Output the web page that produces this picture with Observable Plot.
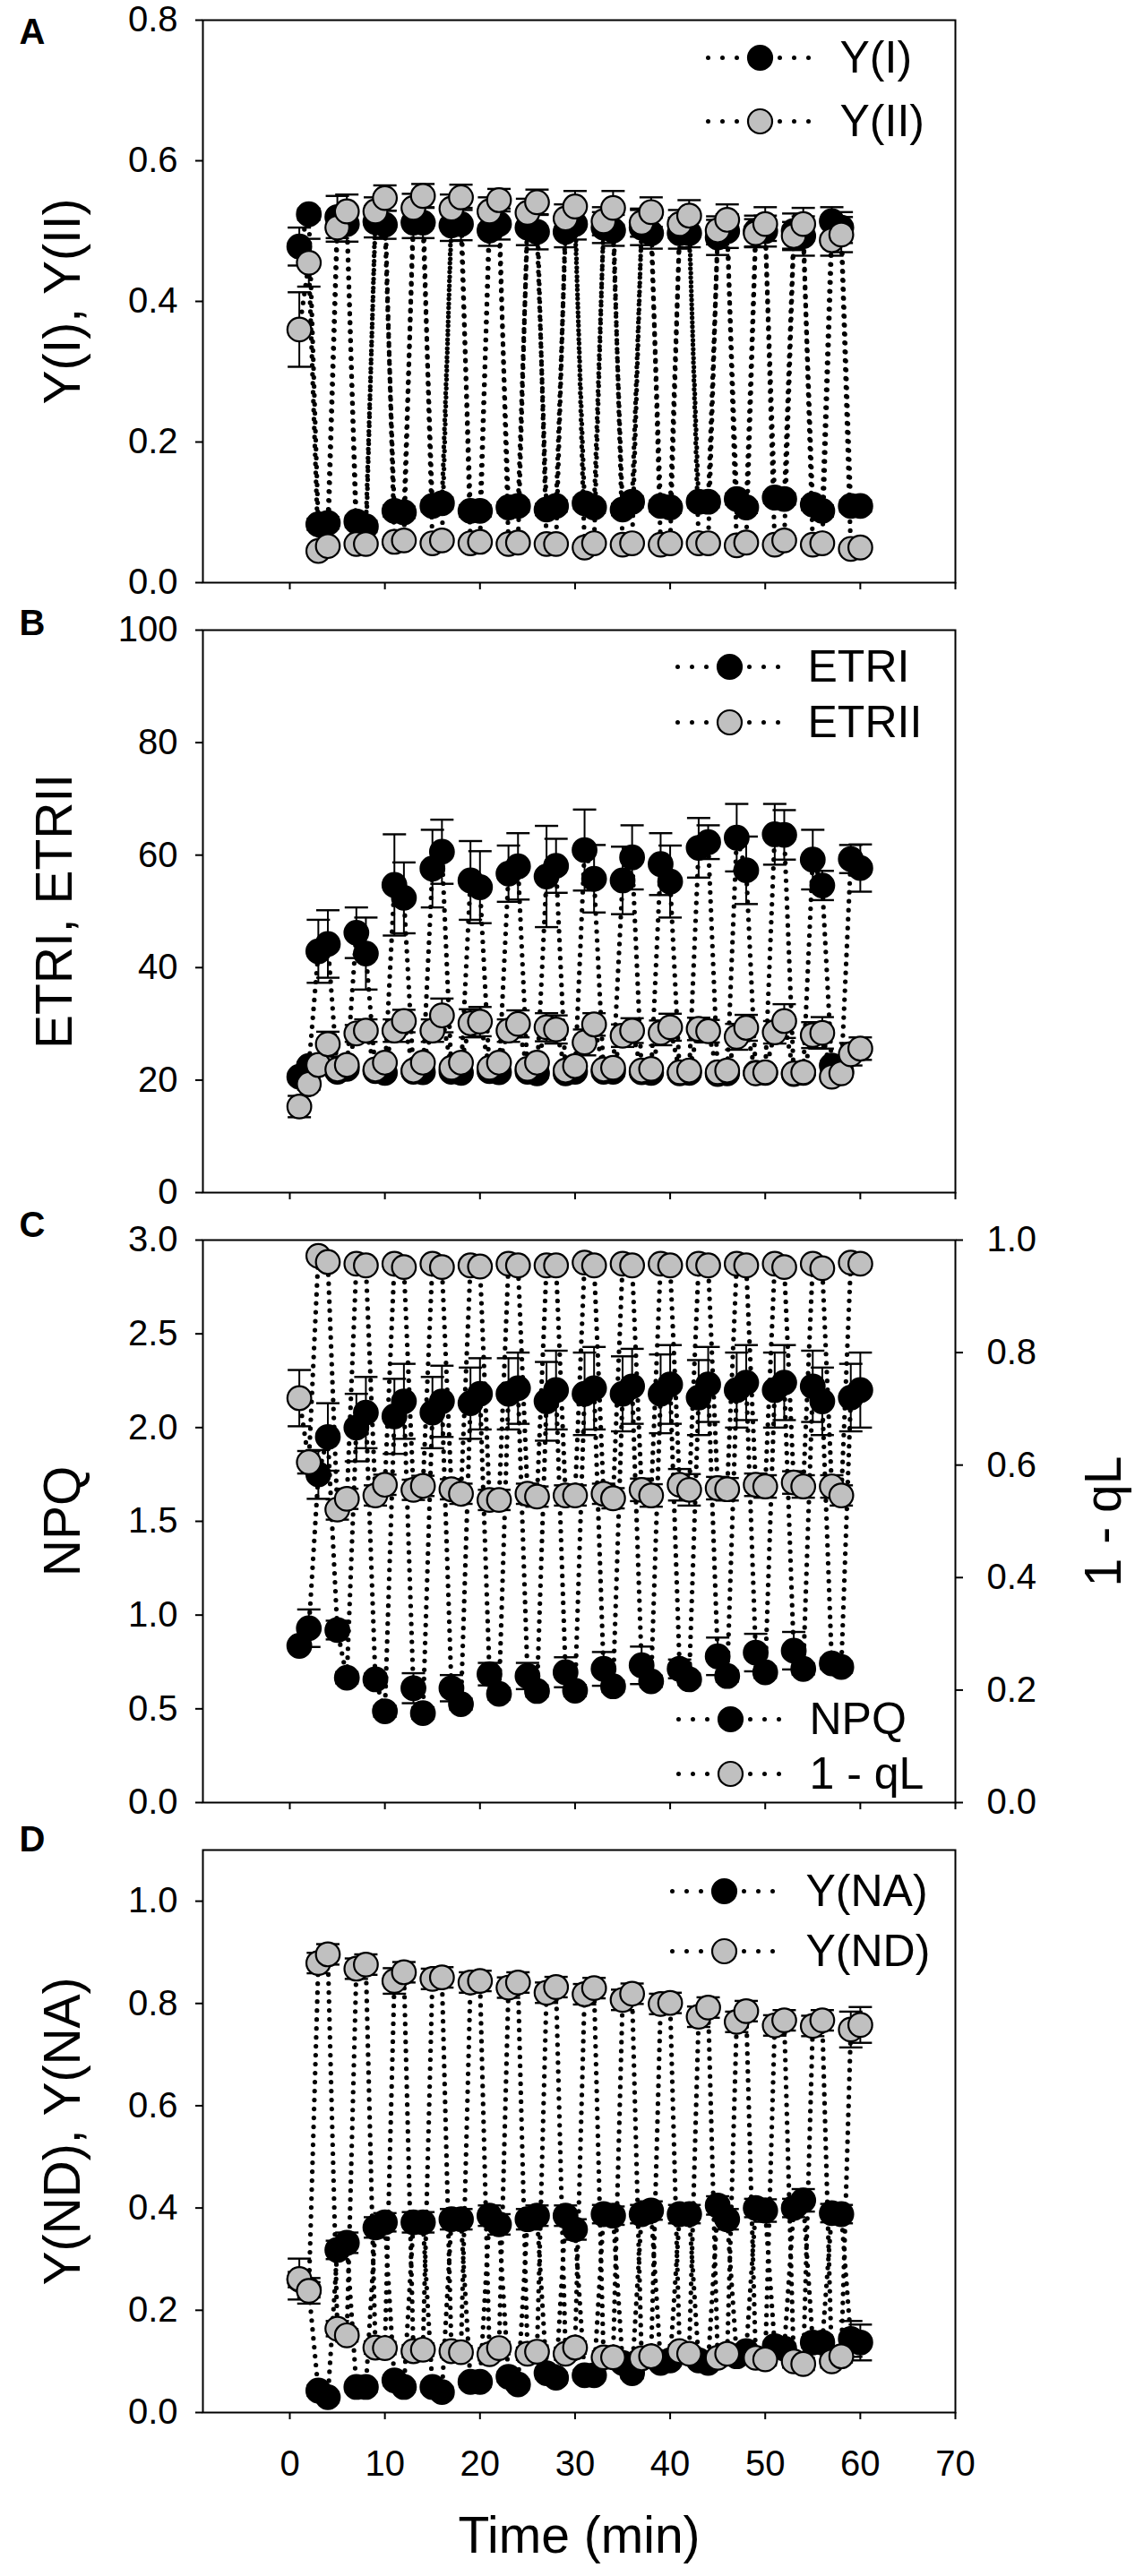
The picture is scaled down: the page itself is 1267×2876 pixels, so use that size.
<!DOCTYPE html>
<html>
<head>
<meta charset="utf-8">
<script src="https://cdn.jsdelivr.net/npm/d3@7"></script>
<script src="https://cdn.jsdelivr.net/npm/@observablehq/plot@0.6"></script>
<style>
  html, body { margin: 0; padding: 0; background: #fff; }
  #chart svg { display: block; }
</style>
</head>
<body>
<div id="chart"></div>
<script>
// ---------- data ----------
const time = [1,2,3,4,5,6,7,8,9,10,11,12,13,14,15,16,17,18,19,20,21,22,23,24,25,26,27,28,29,30,
              31,32,33,34,35,36,37,38,39,40,41,42,43,44,45,46,47,48,49,50,51,52,53,54,55,56,57,58,59,60];
const xTicks = [0,10,20,30,40,50,60,70];

// Panel A
const yI = [0.478,0.524,0.083,0.085,0.520,0.510,0.087,0.080,0.513,0.509,0.102,0.100,0.512,0.512,0.109,0.113,0.508,0.510,0.102,0.102,
            0.501,0.510,0.107,0.109,0.505,0.499,0.104,0.109,0.499,0.510,0.113,0.107,0.505,0.501,0.104,0.115,0.505,0.497,0.109,0.107,
            0.497,0.497,0.115,0.115,0.491,0.500,0.119,0.107,0.500,0.500,0.121,0.119,0.500,0.493,0.111,0.102,0.514,0.505,0.109,0.109];
const yIErr = [0.027,0.008,0.008,0.008,0.030,0.025,0.008,0.008,0.022,0.020,0.008,0.008,0.022,0.022,0.008,0.008,0.022,0.023,0.008,0.008,
               0.022,0.022,0.008,0.008,0.025,0.025,0.008,0.008,0.022,0.022,0.008,0.008,0.022,0.022,0.008,0.008,0.025,0.022,0.008,0.008,
               0.022,0.020,0.008,0.008,0.025,0.024,0.008,0.008,0.022,0.022,0.008,0.008,0.025,0.028,0.008,0.008,0.020,0.022,0.008,0.008];
const yII = [0.360,0.455,0.045,0.052,0.505,0.528,0.055,0.055,0.528,0.547,0.058,0.060,0.533,0.550,0.056,0.060,0.532,0.548,0.056,0.058,
             0.528,0.544,0.055,0.057,0.526,0.541,0.055,0.055,0.518,0.535,0.050,0.056,0.514,0.533,0.054,0.056,0.512,0.527,0.054,0.056,
             0.510,0.522,0.056,0.056,0.501,0.516,0.053,0.057,0.497,0.510,0.054,0.060,0.493,0.510,0.054,0.056,0.487,0.495,0.048,0.050];
const yIIErr = [0.053,0.034,0.005,0.005,0.020,0.024,0.005,0.005,0.020,0.018,0.005,0.005,0.020,0.017,0.005,0.005,0.020,0.018,0.005,0.005,
                0.020,0.016,0.005,0.005,0.020,0.018,0.005,0.005,0.020,0.022,0.005,0.005,0.020,0.024,0.005,0.005,0.020,0.021,0.005,0.005,
                0.020,0.022,0.005,0.005,0.020,0.022,0.005,0.005,0.020,0.024,0.005,0.005,0.020,0.023,0.005,0.005,0.022,0.025,0.005,0.005];

// Panel B
const etrI = [20.6,22.5,42.9,44.2,21.5,22.0,46.2,42.5,21.6,21.3,54.7,52.4,21.5,21.4,57.6,60.6,21.5,21.3,55.5,54.3,
              21.6,21.4,56.7,58.0,21.5,21.2,56.2,58.1,21.2,21.5,60.9,55.8,21.5,21.5,55.5,59.6,21.4,21.3,58.4,55.3,
              21.2,21.3,61.3,62.3,21.1,21.2,63.1,57.3,21.3,21.3,63.7,63.6,21.1,21.3,59.2,54.6,22.6,21.5,59.3,57.7];
const etrIErr = [0.8,0.8,5.6,6.0,0.8,0.8,4.5,6.4,0.8,0.8,9.0,6.3,0.8,0.8,6.9,5.7,0.8,0.8,7.0,6.4,
                 0.8,0.8,5.0,5.9,0.8,0.8,9.0,4.8,0.8,0.8,7.2,6.0,0.8,0.8,6.0,5.7,0.8,0.8,5.5,6.4,
                 0.8,0.8,5.3,3.0,0.8,0.8,6.0,6.0,0.8,0.8,5.4,4.4,0.8,0.8,5.3,2.6,0.8,0.8,2.5,4.2];
const etrII = [15.3,19.3,22.7,26.4,21.9,22.7,28.3,28.8,21.9,23.1,28.8,30.5,21.7,23.1,28.8,31.5,22.2,23.1,30.1,30.4,
               22.2,23.1,28.8,30.0,22.0,23.1,29.4,29.0,21.7,22.5,26.7,29.9,21.9,22.2,27.9,28.8,21.7,22.0,28.4,29.4,
               21.4,21.7,29.1,28.7,21.4,21.7,27.7,29.3,21.2,21.4,28.5,30.5,21.2,21.4,28.0,28.4,20.6,21.2,24.6,25.6];
const etrIIErr = [1.9,1.0,1.0,2.2,0.6,0.6,1.5,2.0,0.6,0.6,2.0,2.0,0.6,0.6,2.0,3.0,0.6,0.6,2.5,2.6,
                  0.6,0.6,2.0,2.4,0.6,0.6,2.5,2.5,0.6,0.6,2.3,2.0,0.6,0.6,2.0,2.2,0.6,0.6,2.2,2.4,
                  0.6,0.6,2.0,2.0,0.6,0.6,2.3,2.3,0.6,0.6,2.0,3.0,0.6,0.6,2.3,2.8,0.6,0.6,2.0,2.0];

// Panel C
const npq = [0.836,0.930,1.75,1.95,0.920,0.666,2.00,2.08,0.657,0.487,2.06,2.14,0.610,0.477,2.08,2.14,0.610,0.525,2.13,2.18,
             0.685,0.580,2.18,2.21,0.675,0.595,2.14,2.20,0.695,0.597,2.18,2.21,0.713,0.620,2.18,2.22,0.732,0.647,2.18,2.23,
             0.713,0.657,2.16,2.23,0.780,0.675,2.20,2.24,0.800,0.695,2.20,2.24,0.810,0.713,2.22,2.14,0.742,0.723,2.16,2.20];
const npqErr = [0.02,0.10,0.13,0.18,0.05,0.03,0.18,0.19,0.03,0.03,0.20,0.20,0.08,0.03,0.19,0.19,0.07,0.03,0.19,0.19,
                0.06,0.03,0.19,0.19,0.07,0.03,0.21,0.21,0.08,0.03,0.22,0.22,0.09,0.03,0.20,0.20,0.10,0.03,0.21,0.21,
                0.05,0.03,0.20,0.20,0.10,0.03,0.20,0.20,0.10,0.03,0.20,0.20,0.10,0.03,0.19,0.18,0.03,0.03,0.18,0.20];
const oneMinusQL = [0.719,0.605,0.972,0.961,0.521,0.540,0.958,0.955,0.546,0.565,0.958,0.952,0.556,0.563,0.958,0.952,0.557,0.549,0.955,0.953,
                    0.538,0.538,0.958,0.955,0.549,0.544,0.955,0.955,0.546,0.546,0.960,0.955,0.549,0.541,0.958,0.955,0.556,0.546,0.958,0.955,
                    0.565,0.556,0.958,0.955,0.559,0.557,0.958,0.955,0.565,0.562,0.958,0.952,0.569,0.562,0.958,0.950,0.562,0.546,0.960,0.958];
const oneMinusQLErr = [0.050,0.020,0.005,0.005,0.018,0.018,0.005,0.005,0.018,0.018,0.005,0.005,0.018,0.018,0.005,0.005,0.018,0.018,0.005,0.005,
                       0.018,0.018,0.005,0.005,0.018,0.018,0.005,0.005,0.018,0.018,0.005,0.005,0.018,0.018,0.005,0.005,0.020,0.020,0.005,0.005,
                       0.028,0.028,0.005,0.005,0.020,0.020,0.005,0.005,0.020,0.020,0.005,0.005,0.020,0.020,0.005,0.005,0.020,0.018,0.005,0.005];

// Panel D
const yNA = [0.260,0.240,0.043,0.030,0.318,0.332,0.050,0.050,0.362,0.372,0.063,0.050,0.372,0.372,0.050,0.040,0.378,0.378,0.060,0.060,
             0.385,0.368,0.070,0.055,0.378,0.385,0.077,0.068,0.385,0.358,0.073,0.073,0.388,0.385,0.097,0.077,0.388,0.395,0.097,0.102,
             0.388,0.388,0.102,0.097,0.405,0.378,0.110,0.120,0.400,0.395,0.130,0.125,0.400,0.415,0.137,0.137,0.390,0.388,0.144,0.137];
const yNAErr = [0.015,0.015,0.010,0.010,0.018,0.020,0.010,0.010,0.020,0.018,0.010,0.010,0.020,0.020,0.010,0.010,0.020,0.020,0.010,0.010,
                0.020,0.020,0.010,0.010,0.020,0.020,0.010,0.010,0.020,0.020,0.010,0.010,0.018,0.018,0.010,0.010,0.018,0.018,0.010,0.010,
                0.018,0.018,0.010,0.010,0.018,0.020,0.010,0.010,0.018,0.022,0.010,0.010,0.018,0.022,0.010,0.010,0.018,0.018,0.035,0.035];
const yND = [0.261,0.238,0.879,0.896,0.164,0.151,0.868,0.876,0.127,0.126,0.844,0.861,0.120,0.123,0.848,0.851,0.120,0.118,0.841,0.844,
             0.114,0.126,0.831,0.841,0.115,0.119,0.821,0.832,0.115,0.127,0.818,0.830,0.108,0.108,0.807,0.819,0.106,0.110,0.799,0.801,
             0.120,0.115,0.774,0.792,0.107,0.115,0.764,0.785,0.107,0.104,0.757,0.767,0.100,0.095,0.756,0.767,0.100,0.110,0.749,0.758];
const yNDErr = [0.040,0.025,0.020,0.020,0.015,0.012,0.020,0.020,0.012,0.012,0.025,0.020,0.012,0.012,0.020,0.020,0.012,0.012,0.020,0.020,
                0.012,0.012,0.020,0.020,0.012,0.012,0.020,0.020,0.012,0.012,0.020,0.020,0.012,0.012,0.020,0.020,0.012,0.012,0.020,0.020,
                0.012,0.012,0.020,0.020,0.012,0.012,0.020,0.020,0.012,0.012,0.020,0.020,0.012,0.012,0.020,0.020,0.012,0.012,0.035,0.035];

// ---------- drawing ----------
const FONT = "'Liberation Sans', Arial, Helvetica, sans-serif";
const GRAY = "#c0c0c0";
const W = 1267, ML = 226, MR = 201, MT = 22, FRAME_H = 628;
const XDOMAIN = [-9.14, 70];
const TICK_FS = 40, LEG_FS = 50, TITLE_FS = 57;

const hline = { draw(ctx, size) { const r = Math.sqrt(size / Math.PI); ctx.moveTo(-r, 0); ctx.lineTo(r, 0); } };

function rows(values, errs, k = 1) {
  return time.map((t, i) => ({ t, v: values[i] * k, lo: (values[i] - errs[i]) * k, hi: (values[i] + errs[i]) * k }));
}

function seriesMarks(data, fill) {
  return [
    Plot.line(data, { x: "t", y: "v", stroke: "black", strokeWidth: 5.2, strokeDasharray: "0 10", strokeLinecap: "round" }),
    Plot.ruleX(data, { x: "t", y1: "lo", y2: "hi", stroke: "black", strokeWidth: 2 }),
    Plot.dot(data, { x: "t", y: "lo", symbol: hline, r: 13, fill: "none", stroke: "black", strokeWidth: 2.4 }),
    Plot.dot(data, { x: "t", y: "hi", symbol: hline, r: 13, fill: "none", stroke: "black", strokeWidth: 2.4 }),
    Plot.dot(data, { x: "t", y: "v", r: 13.3, fill, stroke: "black", strokeWidth: 2.2 })
  ];
}

function legendMarks(items, markerX, textX, rowYs, anchor) {
  const fa = anchor === "top" ? "top-left" : "bottom-left";
  const marks = [];
  items.forEach((it, i) => {
    const dy = rowYs[i];
    marks.push(Plot.dot([it.label], { frameAnchor: fa, dx: markerX - ML, dy, symbol: hline, r: 58, fill: "none",
      stroke: "black", strokeWidth: 5, strokeDasharray: "0 16", strokeLinecap: "round" }));
    marks.push(Plot.dot([it.label], { frameAnchor: fa, dx: markerX - ML, dy, r: 13.5, fill: it.fill, stroke: "black", strokeWidth: 2.2 }));
    marks.push(Plot.text([it.label], { frameAnchor: fa, dx: textX - ML, dy, text: d => d, textAnchor: "start",
      lineAnchor: "middle", fontSize: LEG_FS, fontFamily: FONT, fill: "black" }));
  });
  return marks;
}

function panel(cfg) {
  const height = cfg.height;
  const marks = [
    Plot.frame({ stroke: "black", strokeWidth: 2 }),
    Plot.axisY({ ticks: cfg.yTicks, tickSize: 8, tickPadding: 20, tickFormat: cfg.yFormat, fontSize: TICK_FS,
      fontFamily: FONT, strokeWidth: 2, label: null }),
    Plot.axisX({ ticks: xTicks, tickSize: 8, tickPadding: 34, tickFormat: cfg.xLabels ? (d => String(d)) : (() => ""),
      fontSize: TICK_FS, fontFamily: FONT, strokeWidth: 2, label: null }),
    ...(cfg.extraAxes || []),
    ...cfg.series.flatMap(s => seriesMarks(s.data, s.fill)),
    ...cfg.legend,
    // panel letter
    Plot.text([cfg.letter], { frameAnchor: "top-left", dx: 21 - ML, dy: cfg.letterBaseline - MT - 0.32 * 40,
      text: d => d, textAnchor: "start", lineAnchor: "middle", fontSize: 40, fontWeight: "bold", fontFamily: FONT, fill: "black" }),
    // y title
    Plot.text([cfg.yTitle], { frameAnchor: "left", rotate: -90, dx: cfg.titleBaseline - 0.32 * TITLE_FS - ML,
      text: d => d, textAnchor: "middle", lineAnchor: "middle", fontSize: TITLE_FS, fontFamily: FONT, fill: "black" }),
    ...(cfg.extraText || [])
  ];
  return Plot.plot({
    width: W, height,
    marginLeft: ML, marginRight: MR, marginTop: MT, marginBottom: height - MT - FRAME_H,
    x: { domain: XDOMAIN },
    y: { domain: cfg.yDomain },
    style: { fontFamily: FONT, fontSize: TICK_FS + "px", background: "white", color: "black", overflow: "visible" },
    marks
  });
}

const f1 = d3.format(".1f");
const chart = document.getElementById("chart");

chart.append(panel({
  height: 681, letter: "A", letterBaseline: 48, titleBaseline: 88,
  yTitle: "Y(I), Y(II)", yDomain: [0, 0.8], yTicks: [0, 0.2, 0.4, 0.6, 0.8], yFormat: f1,
  series: [{ data: rows(yI, yIErr), fill: "black" }, { data: rows(yII, yIIErr), fill: GRAY }],
  legend: legendMarks([{ label: "Y(I)", fill: "black" }, { label: "Y(II)", fill: GRAY }], 848, 937, [42, 113], "top")
}));

chart.append(panel({
  height: 681, letter: "B", letterBaseline: 27, titleBaseline: 79,
  yTitle: "ETRI, ETRII", yDomain: [0, 100], yTicks: [0, 20, 40, 60, 80, 100], yFormat: d3.format("d"),
  series: [{ data: rows(etrI, etrIErr), fill: "black" }, { data: rows(etrII, etrIIErr), fill: GRAY }],
  legend: legendMarks([{ label: "ETRI", fill: "black" }, { label: "ETRII", fill: GRAY }], 814, 901, [41, 103], "top")
}));

chart.append(panel({
  height: 681, letter: "C", letterBaseline: 18, titleBaseline: 88,
  yTitle: "NPQ", yDomain: [0, 3], yTicks: [0, 0.5, 1, 1.5, 2, 2.5, 3], yFormat: f1,
  extraAxes: [
    Plot.axisY({ anchor: "right", ticks: [0, 0.6, 1.2, 1.8, 2.4, 3.0], tickSize: 8, tickPadding: 27,
      tickFormat: d => (d / 3).toFixed(1), fontSize: TICK_FS, fontFamily: FONT, strokeWidth: 2, label: null })
  ],
  extraText: [
    Plot.text(["1 - qL"], { frameAnchor: "right", rotate: -90, dx: 1250 - 0.32 * TITLE_FS - (W - MR),
      text: d => d, textAnchor: "middle", lineAnchor: "middle", fontSize: TITLE_FS, fontFamily: FONT, fill: "black" })
  ],
  series: [{ data: rows(npq, npqErr), fill: "black" }, { data: rows(oneMinusQL, oneMinusQLErr, 3), fill: GRAY }],
  legend: legendMarks([{ label: "NPQ", fill: "black" }, { label: "1 - qL", fill: GRAY }], 815, 903, [-93, -32], "bottom")
}));

chart.append(panel({
  height: 833, letter: "D", letterBaseline: 23, titleBaseline: 88, xLabels: true,
  yTitle: "Y(ND), Y(NA)", yDomain: [0, 1.1], yTicks: [0, 0.2, 0.4, 0.6, 0.8, 1.0], yFormat: f1,
  extraText: [
    Plot.text(["Time (min)"], { frameAnchor: "bottom", dy: 138, text: d => d, textAnchor: "middle", lineAnchor: "middle",
      fontSize: TITLE_FS, fontFamily: FONT, fill: "black" })
  ],
  series: [{ data: rows(yNA, yNAErr), fill: "black" }, { data: rows(yND, yNDErr), fill: GRAY }],
  legend: legendMarks([{ label: "Y(NA)", fill: "black" }, { label: "Y(ND)", fill: GRAY }], 808, 899, [46, 113], "top")
}));
</script>
</body>
</html>
